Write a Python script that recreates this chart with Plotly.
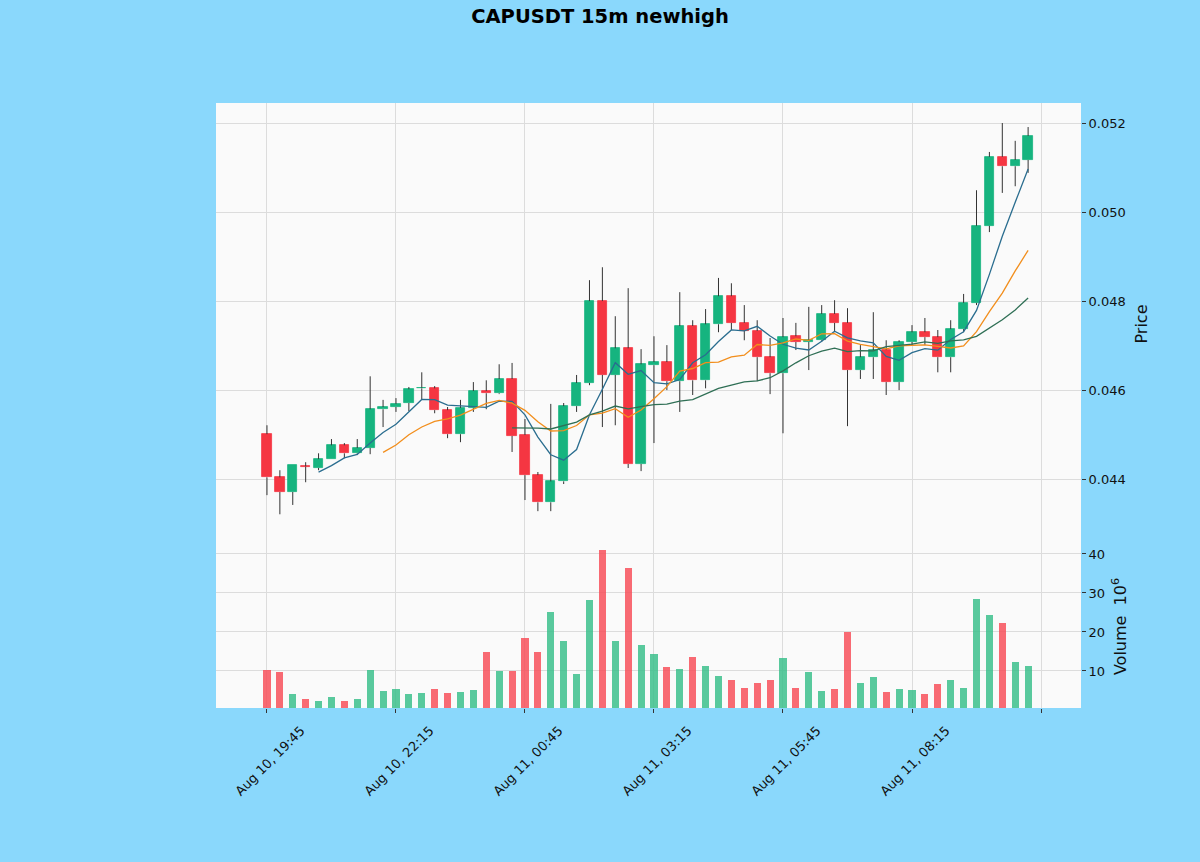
import pandas as pd
import plotly.graph_objects as go

# 15m candles, CAPUSDT
opens = [0.04501, 0.04404, 0.04371, 0.04429, 0.04425, 0.04445, 0.04476, 0.04458, 0.04470, 0.04557,
         0.04562, 0.04571, 0.04604, 0.04604, 0.04555, 0.04501, 0.04560, 0.04598, 0.04593, 0.04625,
         0.04499, 0.04409, 0.04348, 0.04395, 0.04564, 0.04616, 0.04800, 0.04634, 0.04694, 0.04434,
         0.04656, 0.04663, 0.04620, 0.04744, 0.04622, 0.04748, 0.04811, 0.04751, 0.04733, 0.04674,
         0.04638, 0.04721, 0.04708, 0.04712, 0.04771, 0.04751, 0.04645, 0.04674, 0.04690, 0.04618,
         0.04708, 0.04730, 0.04719, 0.04674, 0.04737, 0.04796, 0.04969, 0.05124, 0.05103, 0.05117]
highs = [0.04521, 0.04420, 0.04431, 0.04438, 0.04458, 0.04490, 0.04481, 0.04490, 0.04631, 0.04578,
         0.04582, 0.04607, 0.04640, 0.04609, 0.04562, 0.04578, 0.04618, 0.04622, 0.04658, 0.04661,
         0.04535, 0.04416, 0.04569, 0.04571, 0.04634, 0.04847, 0.04876, 0.04766, 0.04829, 0.04692,
         0.04721, 0.04701, 0.04820, 0.04757, 0.04782, 0.04852, 0.04840, 0.04791, 0.04757, 0.04717,
         0.04762, 0.04751, 0.04787, 0.04791, 0.04802, 0.04784, 0.04701, 0.04775, 0.04712, 0.04712,
         0.04746, 0.04762, 0.04735, 0.04757, 0.04816, 0.05049, 0.05135, 0.05200, 0.05160, 0.05191]
lows = [0.04364, 0.04321, 0.04342, 0.04393, 0.04420, 0.04445, 0.04447, 0.04454, 0.04456, 0.04517,
        0.04551, 0.04553, 0.04578, 0.04548, 0.04492, 0.04483, 0.04551, 0.04557, 0.04591, 0.04461,
        0.04353, 0.04328, 0.04328, 0.04389, 0.04551, 0.04611, 0.04517, 0.04521, 0.04425, 0.04418,
        0.04481, 0.04600, 0.04551, 0.04589, 0.04604, 0.04730, 0.04735, 0.04712, 0.04620, 0.04591,
        0.04503, 0.04690, 0.04645, 0.04708, 0.04730, 0.04519, 0.04625, 0.04625, 0.04589, 0.04600,
        0.04701, 0.04701, 0.04640, 0.04640, 0.04730, 0.04791, 0.04955, 0.05043, 0.05058, 0.05088]
closes = [0.04404, 0.04371, 0.04431, 0.04428, 0.04445, 0.04476, 0.04458, 0.04470, 0.04557, 0.04562,
          0.04569, 0.04602, 0.04605, 0.04555, 0.04501, 0.04560, 0.04598, 0.04593, 0.04625, 0.04497,
          0.04409, 0.04348, 0.04395, 0.04564, 0.04616, 0.04800, 0.04634, 0.04694, 0.04434, 0.04658,
          0.04663, 0.04620, 0.04744, 0.04622, 0.04748, 0.04811, 0.04751, 0.04733, 0.04674, 0.04638,
          0.04719, 0.04708, 0.04712, 0.04771, 0.04751, 0.04645, 0.04674, 0.04690, 0.04618, 0.04708,
          0.04730, 0.04719, 0.04674, 0.04737, 0.04796, 0.04969, 0.05124, 0.05103, 0.05117, 0.05171]
# volume in units of 1e6
volumes = [10.3, 9.7, 4.1, 2.9, 2.2, 3.4, 2.2, 2.9, 10.3, 4.9,
           5.5, 4.0, 4.4, 5.4, 4.4, 4.6, 5.1, 14.8, 10.1, 10.1,
           18.5, 14.8, 25.1, 17.7, 9.2, 28.2, 41.0, 17.7, 36.4, 16.6,
           14.3, 11.0, 10.6, 13.7, 11.3, 8.7, 7.7, 5.6, 6.8, 7.7,
           13.4, 5.6, 9.7, 4.9, 5.4, 20.0, 6.8, 8.4, 4.5, 5.4,
           5.2, 4.1, 6.6, 7.7, 5.6, 28.5, 24.3, 22.2, 12.2, 11.3]
tick_labels = ["Aug 10, 19:45", "Aug 10, 22:15", "Aug 11, 00:45", "Aug 11, 03:15",
               "Aug 11, 05:45", "Aug 11, 08:15", " "]
mav_periods = [5, 10, 20]

UP, DOWN = "#16b47f", "#f53642"
VUP, VDOWN = "#3cbf8c", "#f7505b"
MAV_COLORS = ["#2a6d8f", "#f28e1c", "#2f6f55"]
FONT = "DejaVu Sans"

idx = list(range(len(closes)))
up = [c >= o for o, c in zip(opens, closes)]
body_lo = [min(o, c) for o, c in zip(opens, closes)]
body_hi = [max(o, c) for o, c in zip(opens, closes)]

# wicks drawn as two segments so they don't cross the bodies
wx, wy = [], []
for i in idx:
    wx += [i, i, None, i, i, None]
    wy += [highs[i], body_hi[i], None, body_lo[i], lows[i], None]

fig = go.Figure()

fig.add_trace(go.Scatter(
    x=wx, y=wy, mode="lines", line=dict(color="#333333", width=1),
    xaxis="x2", yaxis="y2", showlegend=False, hoverinfo="skip"))

fig.add_trace(go.Bar(
    x=idx, y=[h - l for h, l in zip(body_hi, body_lo)], base=body_lo, width=0.72,
    marker=dict(color=[UP if u else DOWN for u in up],
                line=dict(color=[UP if u else DOWN for u in up], width=0.8)),
    xaxis="x2", yaxis="y2", showlegend=False))

close_s = pd.Series(closes)
for p, col in zip(mav_periods, MAV_COLORS):
    fig.add_trace(go.Scatter(
        x=idx, y=close_s.rolling(p).mean(), mode="lines",
        line=dict(color=col, width=1.3), xaxis="x2", yaxis="y2",
        showlegend=False, name=f"MA{p}"))

fig.add_trace(go.Bar(
    x=idx, y=volumes, width=0.55,
    marker=dict(color=[VUP if u else VDOWN for u in up], opacity=0.85, line=dict(width=0)),
    xaxis="x", yaxis="y", showlegend=False))

grid = "#dcdcdc"
tickvals = list(range(0, 61, 10))
vol_top = (708 - 545) / (708 - 103)

fig.update_layout(
    width=1200, height=862,
    paper_bgcolor="#8ad8fc", plot_bgcolor="#fafafa",
    margin=dict(l=216, r=119, t=103, b=154),
    font=dict(family=FONT, size=13, color="#111111"),
    title=dict(text="<b>CAPUSDT 15m newhigh</b>", x=0.5, xanchor="center",
               y=0.981, yanchor="middle", font=dict(size=19.5, color="#000000")),
    bargap=0,
    xaxis=dict(domain=[0, 1], anchor="y", range=[-3.95, 63.1],
               tickvals=tickvals, ticktext=tick_labels, tickangle=-45,
               ticklabelshift=34, ticklabelstandoff=5,
               ticks="outside", ticklen=4, tickcolor="#333",
               showgrid=True, gridcolor=grid, zeroline=False, showline=False),
    xaxis2=dict(domain=[0, 1], anchor="y2", matches="x", tickvals=tickvals,
                showticklabels=False, showgrid=True, gridcolor=grid,
                zeroline=False, showline=False),
    yaxis=dict(domain=[0, vol_top], anchor="x", side="right", range=[0.5, 42.3],
               tickvals=[10, 20, 30, 40], ticks="outside", ticklen=4, tickcolor="#333",
               showgrid=True, gridcolor=grid, zeroline=False,
               title=dict(text="Volume  10<sup>6</sup>", standoff=10)),
    yaxis2=dict(domain=[vol_top, 1], anchor="x2", side="right", range=[0.04252, 0.05245],
                tickvals=[0.044, 0.046, 0.048, 0.050, 0.052], tickformat=".3f",
                ticks="outside", ticklen=4, tickcolor="#333",
                showgrid=True, gridcolor=grid, zeroline=False,
                title=dict(text="Price", standoff=10)),
)

# drop the page's default body margin so the figure sits at the window's corner
fig.write_html("out.html", config={"displayModeBar": False},
               post_script="document.body.style.margin='0';")
